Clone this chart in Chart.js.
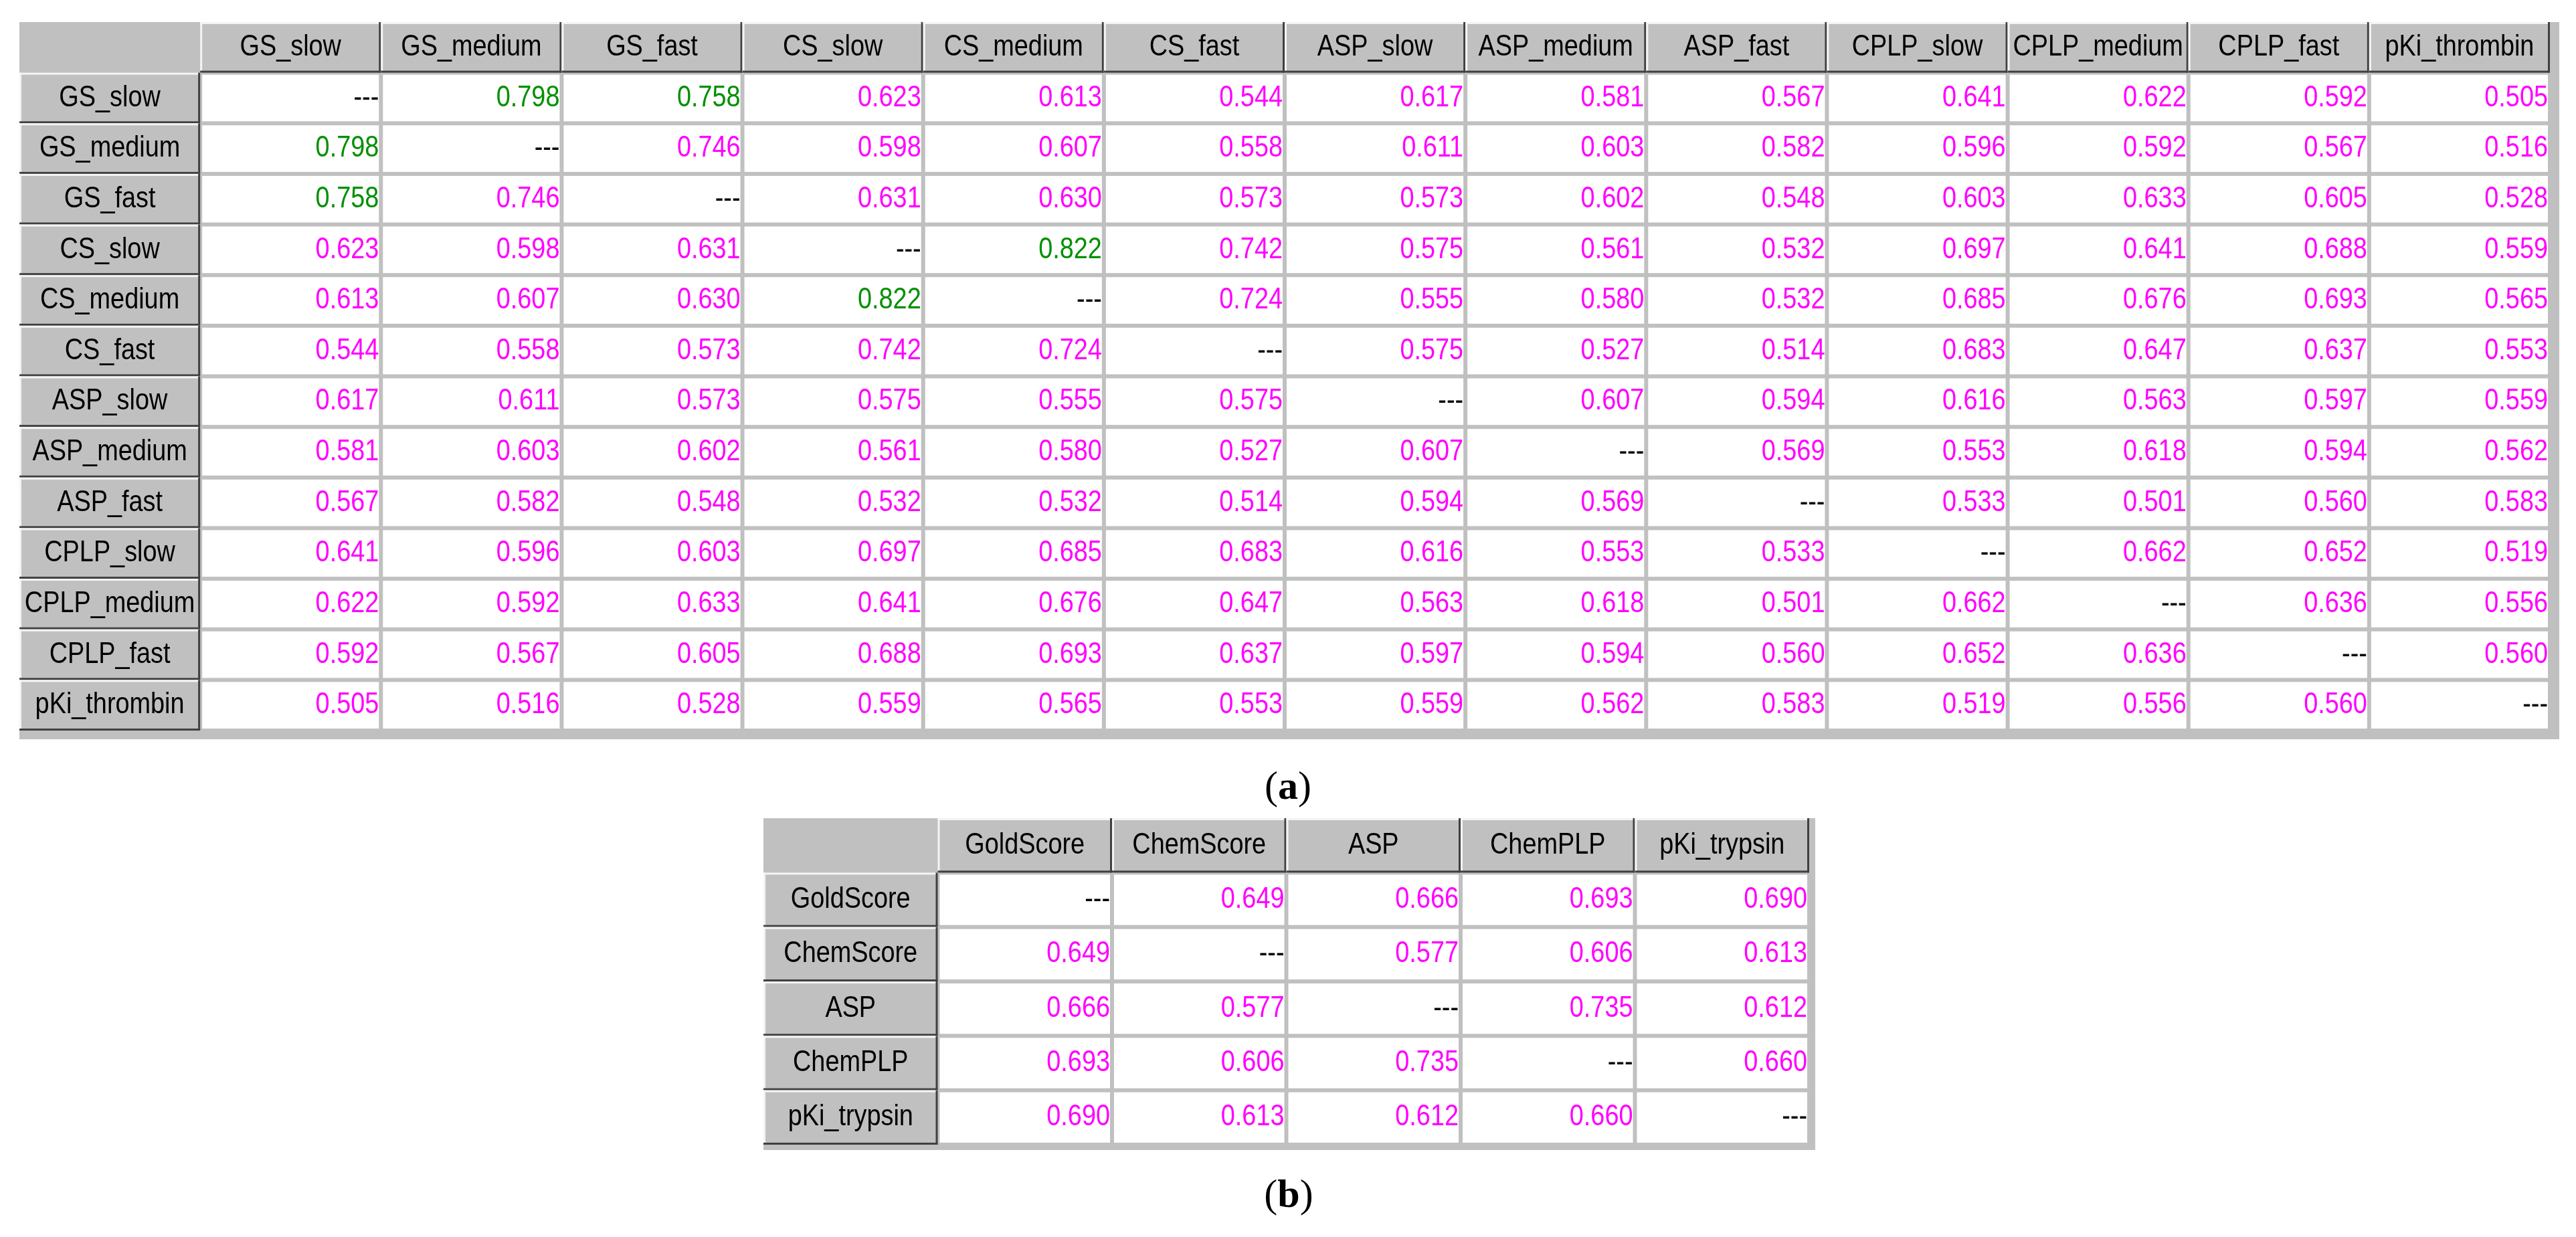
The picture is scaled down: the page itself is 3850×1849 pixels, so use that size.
<!DOCTYPE html>
<html>
<head>
<meta charset="utf-8">
<script src="https://cdn.jsdelivr.net/npm/chart.js@4"></script>
<style>
  body { margin: 0; background: #fff; width: 3850px; height: 1849px; position: relative; overflow: hidden; }
  canvas { position: absolute; }
  .cap { position: absolute; font-family: "Liberation Serif", serif; font-size: 60px; transform: translateX(-50%); }
</style>
</head>
<body>
<canvas id="tableA" width="3796" height="1072" style="left:29px;top:33px"></canvas>
<canvas id="tableB" width="1572" height="496" style="left:1141px;top:1223px"></canvas>
<div class="cap" style="left:1925px;top:1140px">(<b>a</b>)</div>
<div class="cap" style="left:1926px;top:1750px">(<b>b</b>)</div>
<script>
// table (a): thrombin
const labelsA = ['GS_slow', 'GS_medium', 'GS_fast', 'CS_slow', 'CS_medium', 'CS_fast', 'ASP_slow',
                 'ASP_medium', 'ASP_fast', 'CPLP_slow', 'CPLP_medium', 'CPLP_fast', 'pKi_thrombin'];
const valuesA = [
  [null, 0.798, 0.758, 0.623, 0.613, 0.544, 0.617, 0.581, 0.567, 0.641, 0.622, 0.592, 0.505],
  [0.798, null, 0.746, 0.598, 0.607, 0.558, 0.611, 0.603, 0.582, 0.596, 0.592, 0.567, 0.516],
  [0.758, 0.746, null, 0.631, 0.630, 0.573, 0.573, 0.602, 0.548, 0.603, 0.633, 0.605, 0.528],
  [0.623, 0.598, 0.631, null, 0.822, 0.742, 0.575, 0.561, 0.532, 0.697, 0.641, 0.688, 0.559],
  [0.613, 0.607, 0.630, 0.822, null, 0.724, 0.555, 0.580, 0.532, 0.685, 0.676, 0.693, 0.565],
  [0.544, 0.558, 0.573, 0.742, 0.724, null, 0.575, 0.527, 0.514, 0.683, 0.647, 0.637, 0.553],
  [0.617, 0.611, 0.573, 0.575, 0.555, 0.575, null, 0.607, 0.594, 0.616, 0.563, 0.597, 0.559],
  [0.581, 0.603, 0.602, 0.561, 0.580, 0.527, 0.607, null, 0.569, 0.553, 0.618, 0.594, 0.562],
  [0.567, 0.582, 0.548, 0.532, 0.532, 0.514, 0.594, 0.569, null, 0.533, 0.501, 0.560, 0.583],
  [0.641, 0.596, 0.603, 0.697, 0.685, 0.683, 0.616, 0.553, 0.533, null, 0.662, 0.652, 0.519],
  [0.622, 0.592, 0.633, 0.641, 0.676, 0.647, 0.563, 0.618, 0.501, 0.662, null, 0.636, 0.556],
  [0.592, 0.567, 0.605, 0.688, 0.693, 0.637, 0.597, 0.594, 0.560, 0.652, 0.636, null, 0.560],
  [0.505, 0.516, 0.528, 0.559, 0.565, 0.553, 0.559, 0.562, 0.583, 0.519, 0.556, 0.560, null]
];

// table (b): trypsin
const labelsB = ['GoldScore', 'ChemScore', 'ASP', 'ChemPLP', 'pKi_trypsin'];
const valuesB = [
  [null, 0.649, 0.666, 0.693, 0.690],
  [0.649, null, 0.577, 0.606, 0.613],
  [0.666, 0.577, null, 0.735, 0.612],
  [0.693, 0.606, 0.735, null, 0.660],
  [0.690, 0.613, 0.612, 0.660, null]
];

const highCut = 0.75;

function drawText(ctx, txt, x, y, align, color) {
  ctx.save();
  ctx.translate(x, y);
  ctx.scale(0.86, 1);
  ctx.fillStyle = color;
  ctx.textAlign = align;
  ctx.textBaseline = 'middle';
  ctx.font = '44px "Liberation Sans", Arial, sans-serif';
  ctx.fillText(txt, 0, 0);
  ctx.restore();
}

function headerCell(ctx, l, t, w, h) {
  ctx.fillStyle = '#c0c0c0';
  ctx.fillRect(l, t, w, h);
  ctx.fillStyle = '#f4f4f4';
  ctx.fillRect(l, t, w, 3);
  ctx.fillRect(l, t, 3, h);
  ctx.fillStyle = '#404040';
  ctx.fillRect(l, t + h - 3, w, 3);
  ctx.fillRect(l + w - 3, t, 3, h);
}

const gridPlugin = {
  id: 'grid',
  beforeDraw(chart) {
    const ctx = chart.ctx;
    const names = chart.options.plugins.grid.names;
    const vals = chart.options.plugins.grid.values;
    const xs = chart.scales.x, ys = chart.scales.y, area = chart.chartArea;
    const n = names.length + 1;
    const cw = area.width / n, ch = area.height / n;
    // outer gray frame
    ctx.fillStyle = '#c0c0c0';
    ctx.fillRect(0, 0, chart.width, chart.height);
    ctx.fillStyle = '#c0c0c0';
    ctx.fillRect(area.left, area.top, cw, ch);
    for (let i = 0; i < n; i++) {
      for (let j = 0; j < n; j++) {
        if (i === 0 && j === 0) continue;
        const cx = xs.getPixelForValue(j), cy = ys.getPixelForValue(i);
        const l = cx - cw / 2, t = cy - ch / 2;
        if (i === 0 || j === 0) {
          headerCell(ctx, l, t, cw, ch);
          drawText(ctx, names[(i === 0 ? j : i) - 1], cx, cy, 'center', '#000');
        } else {
          ctx.fillStyle = '#fff';
          ctx.fillRect(l + 3, t + 3, cw - 6, ch - 6);
          const v = vals[i - 1][j - 1];
          if (v === null) {
            drawText(ctx, '---', l + cw - 3, cy, 'right', '#000');
          } else {
            drawText(ctx, v.toFixed(3), l + cw - 3, cy, 'right', v >= highCut ? '#009000' : '#ff00ff');
          }
        }
      }
    }
  }
};

function makeTable(id, names, values, pad) {
  const idx = [''].concat(names);
  new Chart(document.getElementById(id), {
    type: 'scatter',
    data: { datasets: [{ data: [], pointRadius: 0 }] },
    options: {
      responsive: false,
      devicePixelRatio: 1,
      animation: false,
      layout: { padding: pad },
      scales: {
        x: { type: 'category', labels: idx, offset: true, display: false },
        y: { type: 'category', labels: idx, offset: true, display: false }
      },
      plugins: {
        legend: { display: false },
        tooltip: { enabled: false },
        grid: { names: names, values: values }
      }
    },
    plugins: [gridPlugin]
  });
}

makeTable('tableA', labelsA, valuesA, { left: 0, top: 0, right: 14, bottom: 13 });
makeTable('tableB', labelsB, valuesB, { left: 0, top: 0, right: 9, bottom: 8 });
</script>
</body>
</html>
